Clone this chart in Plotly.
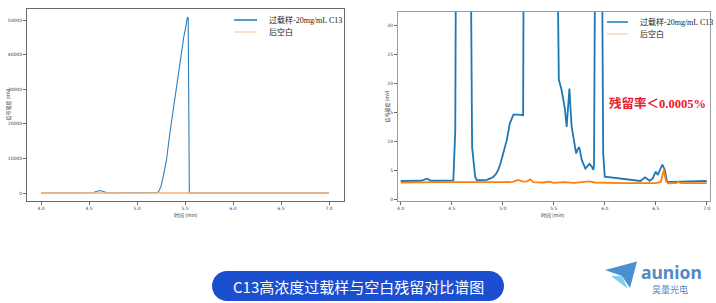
import plotly.graph_objects as go

W, H = 716, 303

# ---------------- data ----------------
t_sample = [4.00, 4.10, 4.20, 4.255, 4.30, 4.40, 4.516, 4.535, 4.545, 4.56, 4.59, 4.61, 4.63, 4.66,
            4.68, 4.69, 4.70, 4.73, 4.745, 4.80, 4.843, 4.88, 4.91, 4.935, 4.957, 4.98, 5.007, 5.025,
            5.04, 5.07, 5.09, 5.105, 5.15, 5.196, 5.20, 5.205, 5.215, 5.224, 5.249, 5.273, 5.307,
            5.342, 5.377, 5.405, 5.429, 5.446, 5.464, 5.488, 5.509, 5.523, 5.533, 5.538, 5.545, 5.55,
            5.56, 5.575, 5.595, 5.61, 5.627, 5.64, 5.654, 5.665, 5.676, 5.70, 5.72, 5.735, 5.75,
            5.775, 5.81, 5.85, 5.875, 5.889, 5.895, 5.905, 5.92, 5.94, 5.96, 5.975, 5.985, 6.00,
            6.10, 6.216, 6.30, 6.35, 6.395, 6.44, 6.47, 6.50, 6.52, 6.545, 6.565, 6.59, 6.61, 6.65,
            6.80, 6.87, 7.00]
v_sample = [3.16, 3.15, 3.2, 3.55, 3.2, 3.2, 3.27, 12, 60, 300, 650, 700, 600, 250,
            60, 22, 9, 3.9, 3.3, 3.3, 3.35, 3.6, 3.9, 4.4, 5.1, 6.3, 7.9, 9.0,
            10.2, 13.1, 14.2, 14.6, 14.6, 14.5, 14.5, 40, 150, 400, 1830, 4730, 9550,
            17270, 24030, 28850, 33680, 37540, 41400, 45260, 48150, 50560, 50800, 40, 22, 20.6,
            20.0, 19.0, 17.1, 15.5, 12.5, 15.0, 19.1, 15.5, 12.5, 10.0, 7.9, 8.6, 9.0,
            6.8, 5.3, 6.1, 5.6, 5.06, 6.0, 40, 120, 160, 110, 38, 8, 3.9,
            3.7, 3.5, 3.25, 3.16, 3.8, 3.2, 3.6, 4.77, 4.2, 5.2, 6.0, 5.06, 3.05, 3.0,
            3.05, 3.05, 3.16]

t_blank = [4.00, 4.10, 4.20, 4.27, 4.35, 4.50, 4.70, 4.90, 5.00, 5.10, 5.15, 5.20, 5.24, 5.27,
           5.30, 5.40, 5.46, 5.50, 5.60, 5.70, 5.85, 5.90, 6.00, 6.20, 6.40, 6.50, 6.55, 6.58,
           6.60, 6.62, 6.70, 6.72, 6.75, 7.00]
v_blank = [2.87, 2.9, 2.95, 3.05, 2.95, 2.95, 2.9, 2.9, 2.95, 3.0, 3.35, 3.05, 3.1, 3.45,
           2.95, 2.9, 3.05, 2.85, 2.95, 2.85, 3.1, 2.9, 2.85, 2.8, 2.8, 2.8, 3.0, 5.1,
           3.2, 2.75, 2.8, 3.0, 2.8, 2.8]

name_sample = "过载样-20mg/mL C13"
name_blank = "后空白"
x_ticks = [4.0, 4.5, 5.0, 5.5, 6.0, 6.5, 7.0]
y_ticks_left = [0, 10000, 20000, 30000, 40000, 50000]
y_ticks_right = [0, 5, 10, 15, 20, 25, 30]
x_title = "时间 (min)"
y_title = "信号强度 (mV)"
residual_text = "残留率＜0.0005%"
caption = "C13高浓度过载样与空白残留对比谱图"

BLUE = "#1f77b4"
ORANGE = "#ff7f0e"


def px(x):
    return x / W


def py(y):
    return 1 - y / H


def path(points_cmds):
    out = []
    for c in points_cmds:
        if isinstance(c, str):
            out.append(c)
        else:
            out.append(f"{px(c[0]):.5f},{py(c[1]):.5f}")
    return " ".join(out)


fig = go.Figure()

# left panel
fig.add_trace(go.Scatter(x=t_sample, y=v_sample, mode="lines", name=name_sample,
                         line=dict(color="#2f7fbd", width=1.1), xaxis="x", yaxis="y",
                         showlegend=False))
fig.add_trace(go.Scatter(x=t_blank, y=v_blank, mode="lines", name=name_blank,
                         line=dict(color="#f6b07a", width=1.6), xaxis="x", yaxis="y",
                         showlegend=False))
# right panel
fig.add_trace(go.Scatter(x=t_sample, y=v_sample, mode="lines", name=name_sample,
                         line=dict(color=BLUE, width=1.8), xaxis="x2", yaxis="y2",
                         showlegend=False))
fig.add_trace(go.Scatter(x=t_blank, y=v_blank, mode="lines", name=name_blank,
                         line=dict(color=ORANGE, width=1.8), xaxis="x2", yaxis="y2",
                         showlegend=False))

tickfont = dict(family="DejaVu Sans", size=4.5, color="#444")
common_x = dict(tickmode="array", tickvals=x_ticks, ticktext=[f"{v:.1f}" for v in x_ticks],
                ticks="outside", ticklen=3, tickwidth=0.7, tickcolor="#666",
                showgrid=False, zeroline=False, tickfont=tickfont, mirror=True,
                showline=True, fixedrange=True)
common_y = dict(ticks="outside", ticklen=3, tickwidth=0.7, tickcolor="#666",
                showgrid=False, zeroline=False, tickfont=tickfont, mirror=True,
                showline=True, fixedrange=True)

fig.update_layout(
    width=W, height=H, margin=dict(l=0, r=0, t=0, b=0),
    paper_bgcolor="white", plot_bgcolor="white", showlegend=False,
    xaxis=dict(domain=[px(27), px(344)], range=[3.854, 7.156], anchor="y",
               linecolor="#6a6a6a", linewidth=1, **common_x),
    yaxis=dict(domain=[py(201), py(9)], range=[-2312, 53180], anchor="x",
               tickmode="array", tickvals=y_ticks_left, ticktext=[str(v) for v in y_ticks_left],
               linecolor="#6a6a6a", linewidth=1, **common_y),
    xaxis2=dict(domain=[px(398), px(710)], range=[3.9735, 7.032], anchor="y2",
                linecolor="#9a9a9a", linewidth=1, **common_x),
    yaxis2=dict(domain=[py(201), py(12)], range=[-0.29, 32.29], anchor="x2",
                tickmode="array", tickvals=y_ticks_right, ticktext=[str(v) for v in y_ticks_right],
                linecolor="#9a9a9a", linewidth=1, **common_y),
)

shapes = []
annos = []

# axis titles
for cx in (186, 553):
    annos.append(dict(x=px(cx), y=py(215), xref="paper", yref="paper", text=x_title,
                      showarrow=False, font=dict(family="Noto Sans CJK SC", size=5, color="#444"),
                      xanchor="center", yanchor="middle"))
for cx, cy in ((7.5, 105), (386.5, 107)):
    annos.append(dict(x=px(cx), y=py(cy), xref="paper", yref="paper", text=y_title,
                      showarrow=False, textangle=-90,
                      font=dict(family="Noto Sans CJK SC", size=5, color="#444"),
                      xanchor="center", yanchor="middle"))

# legends
legfont = dict(family="Liberation Serif, Noto Sans CJK SC", size=8, color="#222")
for (x0, x1, tx, y1, y2) in ((234, 257, 267, 20, 32), (607, 628, 638, 22, 34)):
    shapes.append(dict(type="line", xref="paper", yref="paper", x0=px(x0), x1=px(x1),
                       y0=py(y1), y1=py(y1), line=dict(color=BLUE, width=1.5)))
    shapes.append(dict(type="line", xref="paper", yref="paper", x0=px(x0), x1=px(x1),
                       y0=py(y2), y1=py(y2), line=dict(color="#ffd6b3", width=1.5)))
    annos.append(dict(x=px(tx), y=py(y1), xref="paper", yref="paper", text=name_sample,
                      showarrow=False, font=legfont, xanchor="left", yanchor="middle"))
    annos.append(dict(x=px(tx), y=py(y2), xref="paper", yref="paper", text=name_blank,
                      showarrow=False, font=legfont, xanchor="left", yanchor="middle"))

# residual annotation
annos.append(dict(x=px(607), y=py(103), xref="paper", yref="paper", text=f"<b>{residual_text}</b>",
                  showarrow=False, xanchor="left", yanchor="middle",
                  font=dict(family="Liberation Serif, Noto Sans CJK SC", size=12.5, color="#e8202a")))

# caption pill
L, R, T, B = 212, 504, 271, 301
r = 15
k = 0.5523 * r
pill = path(["M", (L + r, T), "L", (R - r, T),
             "C", (R - r + k, T), (R, T + r - k), (R, T + r),
             "C", (R, T + r + k), (R - r + k, B), (R - r, B),
             "L", (L + r, B),
             "C", (L + r - k, B), (L, T + r + k), (L, T + r),
             "C", (L, T + r - k), (L + r - k, T), (L + r, T), "Z"])
shapes.append(dict(type="path", xref="paper", yref="paper", path=pill,
                   fillcolor="#1b4fcf", line=dict(width=0), layer="above"))
annos.append(dict(x=px(358), y=py(286.5), xref="paper", yref="paper", text=caption,
                  showarrow=False, xanchor="center", yanchor="middle",
                  font=dict(family="Noto Sans CJK SC", size=15, color="white")))

# logo
shapes.append(dict(type="path", xref="paper", yref="paper",
                   path=path(["M", (605, 270), "L", (637, 261.5), "L", (630, 288), "L", (622, 276), "Z"]),
                   fillcolor="#4b8fd3", line=dict(width=0)))
shapes.append(dict(type="path", xref="paper", yref="paper",
                   path=path(["M", (611, 276), "L", (622, 276), "L", (628, 289), "Z"]),
                   fillcolor="#7fd0ec", line=dict(width=0)))
annos.append(dict(x=px(639), y=py(271.5), xref="paper", yref="paper", text="<b>aunion</b>",
                  showarrow=False, xanchor="left", yanchor="middle",
                  font=dict(family="Noto Sans", size=17.5, color="#5389c6")))
annos.append(dict(x=px(670), y=py(289), xref="paper", yref="paper", text="昊量光电",
                  showarrow=False, xanchor="center", yanchor="middle",
                  font=dict(family="Noto Sans CJK SC", size=9, color="#5389c6")))

fig.update_layout(shapes=shapes, annotations=annos)
fig.write_html("out.html")
